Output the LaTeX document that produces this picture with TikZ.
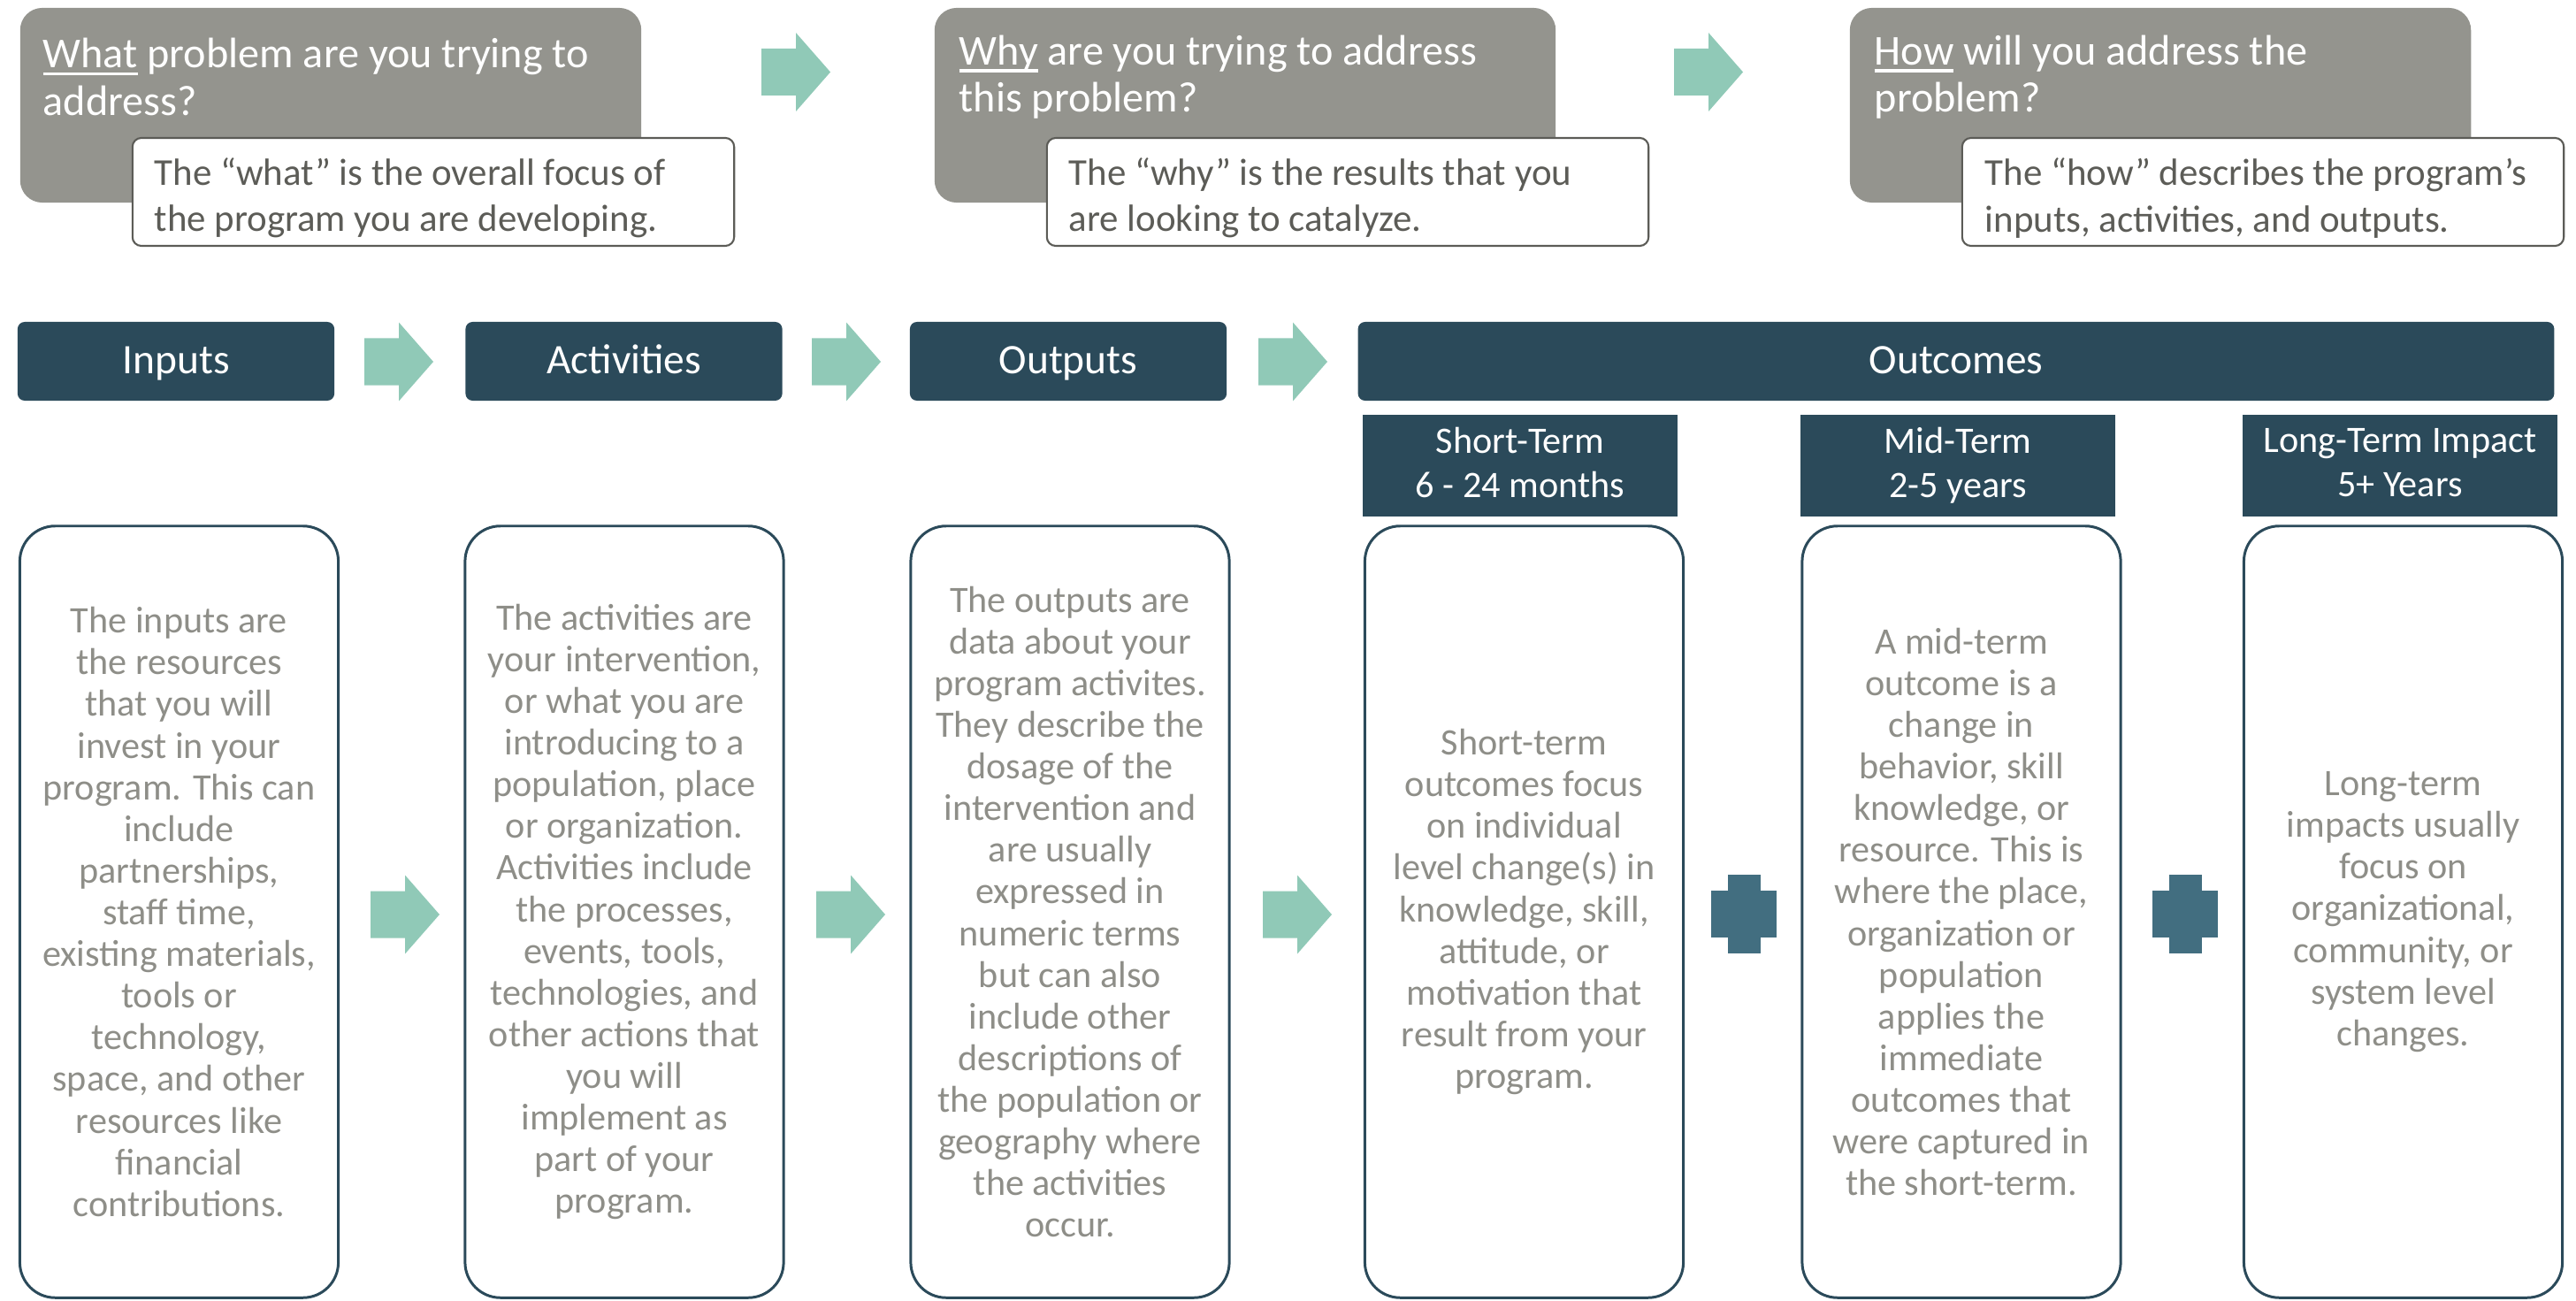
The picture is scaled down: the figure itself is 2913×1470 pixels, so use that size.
\documentclass[tikz,border=0pt]{standalone}
\usepackage{fontspec}
\setmainfont{Carlito}
\definecolor{qgray}{HTML}{94948E}
\definecolor{agray}{HTML}{5C5C57}
\definecolor{bodygray}{HTML}{8E8E88}
\definecolor{headblue}{HTML}{2B4A5A}
\definecolor{plusblue}{HTML}{426E80}
\definecolor{arrowgreen}{HTML}{90C9B7}
\newcommand{\uword}[1]{\setbox0=\hbox{#1}\rlap{\rule[-2.4pt]{\wd0}{1.1pt}}\box0\relax}
\tikzset{
	blockarrow/.pic={\fill[arrowgreen] (0,-26.5) -- (39,-26.5) -- (39,-44.5) -- (78,0) -- (39,44.5) -- (39,26.5) -- (0,26.5) -- cycle;},
	plussign/.pic={\fill[plusblue] (-18.5,-44.5) rectangle (18.5,44.5); \fill[plusblue] (-37,-26.5) rectangle (37,26.5);}
}
\begin{document}
\begin{tikzpicture}[x=0.01cm,y=-0.01cm,
		qbox/.style={fill=qgray, rounded corners=0.25cm, minimum width=7.02cm, minimum height=2.2cm},
		qtext/.style={anchor=west, inner sep=0, align=left, text=white, font=\fontsize{13.7}{15.1}\selectfont},
		abox/.style={fill=white, draw=agray, line width=0.6pt, rounded corners=0.1cm, minimum width=6.8cm, minimum height=1.22cm},
		atext/.style={anchor=west, inner sep=0, align=left, text=agray, font=\fontsize{12.2}{14.8}\selectfont},
		hbox/.style={fill=headblue, rounded corners=0.08cm, minimum width=3.58cm, minimum height=0.89cm, text height=0.79em, text depth=0pt, text=white, font=\fontsize{13.5}{15}\selectfont},
		sbox/.style={fill=headblue, minimum width=3.56cm, minimum height=1.15cm, text depth=0.2em, text=white, align=center, font=\fontsize{12}{14.2}\selectfont},
		dbox/.style={draw=headblue, line width=0.85pt, rounded corners=0.4cm, minimum width=3.6cm, minimum height=8.72cm, text=bodygray, align=center, font=\fontsize{12}{13.4}\selectfont}]
	\useasboundingbox (0,0) rectangle (2913,1470);

	% What / Why / How
	\node[qbox] (what) at (374,119) {};
	\node[qbox] (why) at (1408,119) {};
	\node[qbox] (how) at (2443,119) {};
	\node[qtext] (what-q) at (48,87) {\uword{What} problem are you trying to\\address?};
	\node[qtext] (why-q) at (1084,87) {\uword{Why} are you trying to address\\this problem?};
	\node[qtext] (how-q) at (2119,87) {\uword{How} will you address the\\problem?};
	\node[abox] (what-a) at (490,217) {};
	\node[abox] (why-a) at (1524,217) {};
	\node[abox] (how-a) at (2559,217) {};
	\node[atext] at (174,224) {The “what” is the overall focus of\\the program you are developing.};
	\node[atext] at (1208,224) {The “why” is the results that you\\are looking to catalyze.};
	\node[atext] at (2244,224) {The “how” describes the program’s\\inputs, activities, and outputs.};
	\foreach \ax in {861,1893}
		\pic at (\ax,81.5) {blockarrow};

	% Logic model headers
	\node[hbox] (inputs) at (199,408.5) {Inputs};
	\node[hbox] (activities) at (705.5,408.5) {Activities};
	\node[hbox] (outputs) at (1208,408.5) {Outputs};
	\node[hbox, minimum width=13.52cm] (outcomes) at (2212,408.5) {Outcomes};
	\node[sbox] (short) at (1719,526.5) {Short-Term\\6 - 24 months};
	\node[sbox] (mid) at (2214,526.5) {Mid-Term\\2-5 years};
	\node[sbox] (long) at (2714,526.5) {Long-Term Impact\\5+ Years};
	\foreach \ax in {412,918,1423}
		\pic at (\ax,409) {blockarrow};

	% Descriptions
	\node[dbox] (inputs-d) at (202.5,1031) {The inputs are\\the resources\\that you will\\invest in your\\program. This can\\include\\partnerships,\\staff time,\\existing materials,\\tools or\\technology,\\space, and other\\resources like\\financial\\contributions.};
	\node[dbox] (activities-d) at (706,1031) {The activities are\\your intervention,\\or what you are\\introducing to a\\population, place\\or organization.\\Activities include\\the processes,\\events, tools,\\technologies, and\\other actions that\\you will\\implement as\\part of your\\program.};
	\node[dbox] (outputs-d) at (1210,1031) {The outputs are\\data about your\\program activites.\\They describe the\\dosage of the\\intervention and\\are usually\\expressed in\\numeric terms\\but can also\\include other\\descriptions of\\the population or\\geography where\\the activities\\occur.};
	\node[dbox] (short-d) at (1723.5,1031) {Short-term\\outcomes focus\\on individual\\level change(s) in\\knowledge, skill,\\attitude, or\\motivation that\\result from your\\program.};
	\node[dbox] (mid-d) at (2218,1031) {A mid-term\\outcome is a\\change in\\behavior, skill\\knowledge, or\\resource. This is\\where the place,\\organization or\\population\\applies the\\immediate\\outcomes that\\were captured in\\the short-term.};
	\node[dbox] (long-d) at (2717.5,1031) {Long-term\\impacts usually\\focus on\\organizational,\\community, or\\system level\\changes.};
	\foreach \ax in {419,923,1428}
		\pic at (\ax,1034) {blockarrow};
	\pic at (1972,1033.5) {plussign};
	\pic at (2471,1033.5) {plussign};
\end{tikzpicture}
\end{document}
